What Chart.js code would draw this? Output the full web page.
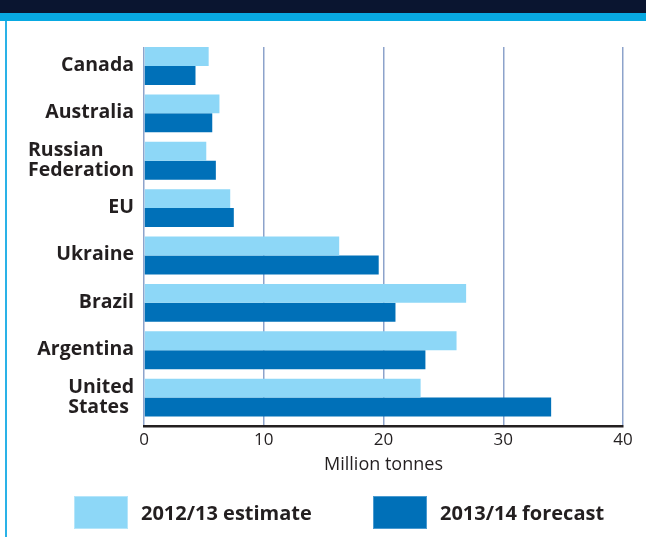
<!DOCTYPE html>
<html>
<head>
<meta charset="utf-8">
<script src="https://cdn.jsdelivr.net/npm/chart.js@4.4.1/dist/chart.umd.min.js"></script>
<style>
  html, body { margin: 0; padding: 0; background: #fff; }
  body { width: 646px; height: 537px; position: relative; overflow: hidden; font-family: "Open Sans", sans-serif; color: #231f20; }
  .band-dark { position: absolute; left: 0; top: 0; width: 646px; height: 13px; background: #0a1530; }
  .band-cyan { position: absolute; left: 0; top: 13px; width: 646px; height: 8px; background: #08a9e2; }
  .edge { position: absolute; left: 5px; top: 21px; width: 2px; height: 516px; background: #2ab2e7; }
  #wrap { position: absolute; left: 0; top: 0; width: 646px; height: 537px; }
  .swatch { position: absolute; top: 496px; width: 52px; height: 31px; }
  .swatch.est { left: 74px; background: #8dd7f7; border: 1px solid #b5e5fa; }
  .swatch.fc { left: 373px; background: #0070b8; border: 1px solid #4a9ad0; }
  .key { position: absolute; top: 503px; font-size: 20px; line-height: 20px; font-weight: 700; white-space: nowrap; }
</style>
</head>
<body>
<div class="band-dark"></div>
<div class="band-cyan"></div>
<div class="edge"></div>
<div id="wrap"><canvas id="grainChart"></canvas></div>
<div class="swatch est"></div><div class="key" id="keyEst" style="left:141px"></div>
<div class="swatch fc"></div><div class="key" id="keyFc" style="left:440px"></div>
<script>
// Exporters, million tonnes: 2012/13 estimate vs 2013/14 forecast
const COUNTRIES = ["Canada", "Australia", "Russian\nFederation", "EU", "Ukraine", "Brazil", "Argentina", "United\nStates"];
const ESTIMATE_2012 = [5.4, 6.3, 5.2, 7.2, 16.3, 26.9, 26.1, 23.1];
const FORECAST_2013 = [4.3, 5.7, 6.0, 7.5, 19.6, 21.0, 23.5, 34.0];
const X_TICKS = [0, 10, 20, 30, 40];
const SERIES_NAMES = ["2012/13 estimate", "2013/14 forecast"];

const TEXT = "#231f20";
const LIGHT = "#8dd7f7";
const DARK = "#0070b8";
const GRID = "#8da3cb";

document.getElementById("keyEst").textContent = SERIES_NAMES[0];
document.getElementById("keyFc").textContent = SERIES_NAMES[1];

// country names sit right-aligned as a block, lines left-aligned inside it
const countryLabels = {
  id: "countryLabels",
  afterDraw(chart) {
    const { ctx, chartArea } = chart;
    const y = chart.scales.y;
    ctx.save();
    ctx.font = 'bold 19.5px "Open Sans"';
    ctx.fillStyle = TEXT;
    ctx.textAlign = "left";
    ctx.textBaseline = "alphabetic";
    COUNTRIES.forEach((name, i) => {
      const lines = name.split("\n");
      const w = Math.max(...lines.map((l) => ctx.measureText(l).width));
      const x = chartArea.left - 10 - w;
      const mid = y.getPixelForValue(i) - 2;
      lines.forEach((line, k) => {
        ctx.fillText(line, x, mid + (k - (lines.length - 1) / 2) * 20 + 7);
      });
    });
    ctx.restore();
  },
};

new Chart(document.getElementById("grainChart"), {
  type: "bar",
  data: {
    datasets: [
      { label: SERIES_NAMES[0], data: ESTIMATE_2012.map((v, i) => ({ x: v, y: i })), backgroundColor: LIGHT },
      { label: SERIES_NAMES[1], data: FORECAST_2013.map((v, i) => ({ x: v, y: i })), backgroundColor: DARK },
    ],
  },
  options: {
    indexAxis: "y",
    responsive: true,
    maintainAspectRatio: false,
    animation: false,
    categoryPercentage: 0.8,
    barPercentage: 1.0,
    layout: { padding: { left: 144, right: 23, top: 47, bottom: 61 } },
    plugins: { legend: { display: false }, tooltip: { enabled: false } },
    scales: {
      x: {
        min: X_TICKS[0],
        max: X_TICKS[X_TICKS.length - 1],
        afterBuildTicks: (scale) => { scale.ticks = X_TICKS.map((v) => ({ value: v })); },
        grid: { color: GRID, lineWidth: 1.5, drawTicks: false },
        border: { display: true, color: TEXT, width: 2.5 },
        ticks: { color: TEXT, font: { family: "Open Sans", size: 17 }, padding: 4, maxRotation: 0 },
        title: { display: true, text: "Million tonnes", color: TEXT, font: { family: "Open Sans", size: 18 }, padding: { top: 0, bottom: 0 } },
      },
      // linear index axis so each pair of bars hangs from the top of its slot
      y: {
        type: "linear",
        reverse: true,
        offset: false,
        bounds: "data",
        min: -0.4,
        max: 7.6,
        display: false,
        ticks: { stepSize: 1, includeBounds: false },
      },
    },
  },
  plugins: [countryLabels],
});
</script>
</body>
</html>
